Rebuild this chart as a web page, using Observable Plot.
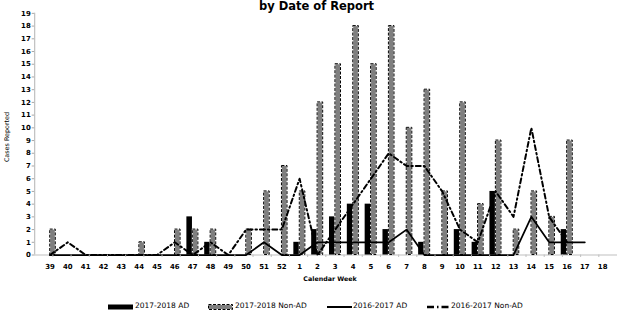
<!DOCTYPE html>
<html><head><meta charset="utf-8">
<script src="https://cdn.jsdelivr.net/npm/d3@7"></script>
<script src="https://cdn.jsdelivr.net/npm/@observablehq/plot@0.6"></script>
<style>
html,body{margin:0;padding:0;overflow:hidden;background:#fff;width:619px;height:310px}
#wrap{position:relative;width:619px;height:310px;overflow:hidden}
#wrap svg.plot{position:absolute;left:0;top:0}
.t{position:absolute;font-family:"DejaVu Sans";line-height:1;white-space:nowrap;color:#000}
</style></head><body><div id="wrap"></div>
<script>
// ---- data ----
const weeks = ["39","40","41","42","43","44","45","46","47","48","49","50","51","52",
  "1","2","3","4","5","6","7","8","9","10","11","12","13","14","15","16","17","18"];
const ad1718 =    [0,0,0,0,0,0,0,0,3,1,0,0,0,0, 1,2,3,4,4,2,0,1,0,2,1,5,0,0,0,2,0,0];
const nonAd1718 = [2,0,0,0,0,1,0,2,2,2,0,2,5,7, 5,12,15,18,15,18,10,13,5,12,4,9,2,5,3,9,0,0];
const ad1617 =    [0,0,0,0,0,0,0,0,0,0,0,0,1,0, 0,1,1,1,1,1,2,0,0,0,0,0,0,3,1,1,1,null];
const nonAd1617 = [0,1,0,0,0,0,0,1,0,1,0,2,2,2, 6,0,2,4,6,8,7,7,5,2,1,5,3,10,3,1,null,null];
const yTicks = d3.range(0, 20);
const seriesNames = ["2017-2018 AD","2017-2018 Non-AD","2016-2017 AD","2016-2017 Non-AD"];

const data = weeks.map((w,i)=>({week:w, ad1718:ad1718[i], non1718:nonAd1718[i], ad1617:ad1617[i], non1617:nonAd1617[i]}));

const W = 625, H = 310, ML = 35, MR = 2, MT = 13, MB = 53;
const bw = (W - ML - MR) / weeks.length;
const barW = 6;
const grayBars = data.filter(d => d.non1718 > 0);

const chart = Plot.plot({
  width: W, height: H, marginLeft: ML, marginRight: MR, marginTop: MT, marginBottom: MB,
  style: {fontFamily: "DejaVu Sans", background: "transparent"},
  x: {domain: weeks, padding: 0, axis: null},
  y: {domain: [0, 19], axis: null},
  marks: [
    Plot.ruleY([0], {stroke: "#bfbfbf", strokeWidth: 1.2}),
    Plot.axisY({ticks: yTicks, tickSize: 3, tickPadding: 1.5, fontSize: 7, fontWeight: "bold", stroke: "#a6a6a6", fill: "black", tickFormat: d => d, label: null}),
    Plot.axisX({tickSize: 0, tickPadding: 9, fontSize: 7, fontWeight: "bold", fill: "black", label: null}),
    Plot.barY(data.filter(d => d.ad1718 > 0), {x: "week", y: "ad1718", fill: "black", insetLeft: bw/2 - barW, insetRight: bw/2}),
    Plot.barY(grayBars, {x: "week", y: "non1718", fill: "#7f7f7f", stroke: "white", strokeWidth: 1, insetLeft: bw/2, insetRight: bw/2 - barW}),
    Plot.barY(grayBars, {x: "week", y: "non1718", fill: "none", stroke: "black", strokeWidth: 1, strokeDasharray: "3,1.5", insetLeft: bw/2, insetRight: bw/2 - barW}),
    Plot.line(data.filter(d => d.ad1617 != null), {x: "week", y: "ad1617", stroke: "black", strokeWidth: 1.75}),
    Plot.line(data.filter(d => d.non1617 != null), {x: "week", y: "non1617", stroke: "black", strokeWidth: 2, strokeDasharray: "5,3,1.5,3"})
  ]
});
chart.classList.add("plot");
const wrap = document.getElementById("wrap");
wrap.appendChild(chart);

// axis line and between-category ticks from the library's scales
const sx = chart.scale("x"), sy = chart.scale("y");
const svg = d3.select(chart);
const y0 = sy.apply(0), yTop = sy.apply(19);
svg.append("line").attr("x1", sx.range[0]).attr("x2", sx.range[0]).attr("y1", yTop).attr("y2", y0)
  .attr("stroke", "#bfbfbf").attr("stroke-width", 1.2);
const band = d3.scaleBand().domain(weeks).range(sx.range).padding(0);
weeks.forEach((w, i) => {
  if (i === 0) return;
  const xx = band(w);
  svg.append("line").attr("x1", xx).attr("x2", xx).attr("y1", y0).attr("y2", y0 + 2.5)
    .attr("stroke", "#bfbfbf").attr("stroke-width", 1);
});

// texts
function addText(txt, css) {
  const d = document.createElement("div");
  d.className = "t"; d.textContent = txt;
  Object.assign(d.style, css);
  wrap.appendChild(d);
  return d;
}
addText("by Date of Report", {left: "316.5px", top: "0.8px", fontSize: "11.5px", fontWeight: "bold", transform: "translateX(-50%)"});
addText("Calendar Week", {left: "330px", top: "275.7px", fontSize: "6.3px", fontWeight: "bold", transform: "translateX(-50%)"});
addText("Cases Reported", {left: "7px", top: "137px", fontSize: "6.4px", transform: "translate(-50%,-50%) rotate(-90deg)"});

// legend
const leg = d3.select(wrap).append("svg").attr("width", 619).attr("height", 20)
  .style("position", "absolute").style("left", "0px").style("top", "298px");
leg.append("rect").attr("x", 108).attr("y", 6.5).attr("width", 25).attr("height", 5).attr("fill", "black");
leg.append("rect").attr("x", 208.5).attr("y", 6.5).attr("width", 24).attr("height", 5).attr("fill", "#7f7f7f").attr("stroke", "white");
leg.append("rect").attr("x", 208.5).attr("y", 6.5).attr("width", 24).attr("height", 5).attr("fill", "none").attr("stroke", "black").attr("stroke-dasharray", "3,1.5");
leg.append("line").attr("x1", 327).attr("x2", 352).attr("y1", 9).attr("y2", 9).attr("stroke", "black").attr("stroke-width", 2);
leg.append("line").attr("x1", 427).attr("x2", 451).attr("y1", 9).attr("y2", 9).attr("stroke", "black").attr("stroke-width", 2.5).attr("stroke-dasharray", "7,3,1.5,3");
const legX = [135, 235, 353, 451];
seriesNames.forEach((n, i) => addText(n, {left: legX[i] + "px", top: "302px", fontSize: "7.5px"}));
</script>
</body></html>
